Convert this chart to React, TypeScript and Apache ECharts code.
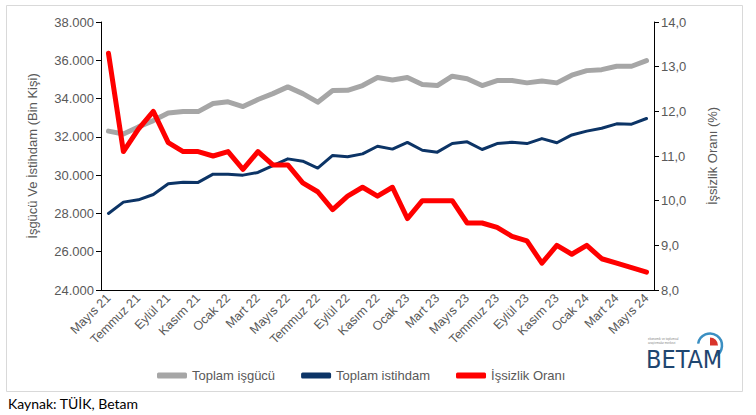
import React, { useEffect, useRef } from "react";
import * as echarts from "echarts";

const categories = [
  "Mayıs 21", "Haziran 21", "Temmuz 21", "Ağustos 21", "Eylül 21", "Ekim 21", "Kasım 21", "Aralık 21",
  "Ocak 22", "Şubat 22", "Mart 22", "Nisan 22", "Mayıs 22", "Haziran 22", "Temmuz 22", "Ağustos 22",
  "Eylül 22", "Ekim 22", "Kasım 22", "Aralık 22", "Ocak 23", "Şubat 23", "Mart 23", "Nisan 23",
  "Mayıs 23", "Haziran 23", "Temmuz 23", "Ağustos 23", "Eylül 23", "Ekim 23", "Kasım 23", "Aralık 23",
  "Ocak 24", "Şubat 24", "Mart 24", "Nisan 24", "Mayıs 24",
];

const isgucu = [
  32300, 32150, 32520, 32850, 33250, 33320, 33320, 33740, 33830, 33580, 33950, 34260, 34610, 34260,
  33810, 34420, 34430, 34680, 35100, 34970, 35100, 34730, 34680, 35170, 35040, 34680, 34940, 34940,
  34820, 34920, 34820, 35220, 35460, 35510, 35690, 35690, 35980,
];

const istihdam = [
  28000, 28590, 28710, 28990, 29550, 29630, 29620, 30050, 30050, 30000, 30140, 30500, 30850, 30730,
  30370, 31030, 30960, 31110, 31510, 31360, 31710, 31300, 31200, 31650, 31740, 31340, 31650, 31720,
  31650, 31910, 31690, 32100, 32300, 32450, 32680, 32660, 32960,
];

const issizlik = [
  13.3, 11.1, 11.6, 12.0, 11.3, 11.1, 11.1, 11.0, 11.1, 10.7, 11.1, 10.8, 10.8, 10.4, 10.2, 9.8,
  10.1, 10.3, 10.1, 10.3, 9.6, 10.0, 10.0, 10.0, 9.5, 9.5, 9.4, 9.2, 9.1, 8.6, 9.0, 8.8, 9.0, 8.7,
  8.6, 8.5, 8.4,
];

const seriesNames = ["Toplam işgücü", "Toplam istihdam", "İşsizlik Oranı"];
const leftAxisName = "İşgücü Ve İstihdam (Bin Kişi)";
const rightAxisName = "İşsizlik Oranı (%)";
const sourceText = "Kaynak: TÜİK, Betam";

const FONT = "'Liberation Sans', Arial, sans-serif";
const LABEL = "#595959";

function fmtThousands(v: number) {
  const k = Math.floor(v / 1000);
  const r = Math.round(v % 1000);
  return k + "." + String(r).padStart(3, "0");
}

export default function App() {
  const ref = useRef<HTMLDivElement>(null);
  useEffect(() => {
    if (!ref.current) return;
    const chart = echarts.init(ref.current, null, { renderer: "svg" });
    chart.setOption({
      animation: false,
      backgroundColor: "#ffffff",
      textStyle: { fontFamily: FONT },
      grid: { left: 101, right: 102, top: 22, bottom: 125, containLabel: false },
      legend: {
        left: 152,
        top: 364,
        itemGap: 26,
        itemWidth: 30,
        itemHeight: 6,
        icon: "roundRect",
        textStyle: { color: LABEL, fontSize: 13, fontFamily: FONT },
        data: seriesNames,
      },
      xAxis: {
        type: "category",
        data: categories,
        boundaryGap: true,
        axisLine: { lineStyle: { color: "#000", width: 1 } },
        axisTick: { interval: 1, length: 5, lineStyle: { color: "#000" } },
        axisLabel: {
          interval: 1,
          rotate: 45,
          color: LABEL,
          fontSize: 12.5,
          fontFamily: FONT,
          margin: 6,
        },
      },
      yAxis: [
        {
          type: "value",
          min: 24000,
          max: 38000,
          interval: 2000,
          position: "left",
          name: leftAxisName,
          nameLocation: "middle",
          nameGap: 62,
          nameTextStyle: { color: LABEL, fontSize: 13, fontFamily: FONT },
          axisLine: { show: true, lineStyle: { color: "#000" } },
          axisTick: { show: true, length: 5, lineStyle: { color: "#000" } },
          splitLine: { show: false },
          axisLabel: { color: LABEL, fontSize: 13, fontFamily: FONT, margin: 7, formatter: fmtThousands },
        },
        {
          type: "value",
          min: 8,
          max: 14,
          interval: 1,
          position: "right",
          name: rightAxisName,
          nameLocation: "middle",
          nameGap: 52,
          nameRotate: 90,
          nameTextStyle: { color: LABEL, fontSize: 13, fontFamily: FONT },
          axisLine: { show: true, lineStyle: { color: "#000" } },
          axisTick: { show: true, length: 5, lineStyle: { color: "#000" } },
          splitLine: { show: false },
          axisLabel: {
            color: LABEL,
            fontSize: 13,
            fontFamily: FONT,
            margin: 7,
            formatter: (v: number) => v.toFixed(1).replace(".", ","),
          },
        },
      ],
      series: [
        {
          name: seriesNames[0],
          type: "line",
          data: isgucu,
          yAxisIndex: 0,
          showSymbol: false,
          symbol: "none",
          lineStyle: { color: "#a6a6a6", width: 5, cap: "round", join: "round" },
          itemStyle: { color: "#a6a6a6" },
        },
        {
          name: seriesNames[1],
          type: "line",
          data: istihdam,
          yAxisIndex: 0,
          showSymbol: false,
          symbol: "none",
          lineStyle: { color: "#0c3466", width: 3, cap: "round", join: "round" },
          itemStyle: { color: "#0c3466" },
        },
        {
          name: seriesNames[2],
          type: "line",
          data: issizlik,
          yAxisIndex: 1,
          showSymbol: false,
          symbol: "none",
          lineStyle: { color: "#ff0000", width: 5, cap: "round", join: "round" },
          itemStyle: { color: "#ff0000" },
        },
      ],
      graphic: [
        {
          type: "rect",
          shape: { x: 6.5, y: 5.5, width: 736, height: 386 },
          style: { fill: "none", stroke: "#d9d9d9", lineWidth: 1 },
          silent: true,
          z: -1,
        },
        {
          type: "text",
          left: 8,
          top: 396,
          style: { text: sourceText, fill: "#000", fontSize: 14, fontFamily: "Lato, 'Open Sans', sans-serif" },
        },
        {
          type: "group",
          left: 646,
          top: 331,
          children: [
            {
              type: "arc",
              shape: { cx: 64, cy: 14, r: 12, startAngle: Math.PI * 1.05, endAngle: Math.PI * 2.35 },
              style: { stroke: "#3b8fc2", lineWidth: 2.5, fill: "none" },
            },
            {
              type: "sector",
              shape: { cx: 64, cy: 14, r: 8, r0: 0, startAngle: Math.PI * 1.5, endAngle: Math.PI * 2 },
              style: { fill: "#d9342b" },
            },
            {
              type: "text",
              x: 2,
              y: 6,
              style: { text: "ekonomik ve toplumsal", fill: "#888", fontSize: 3, fontFamily: FONT },
            },
            {
              type: "text",
              x: 2,
              y: 10,
              style: { text: "araştırmalar merkezi", fill: "#888", fontSize: 3, fontFamily: FONT },
            },
            {
              type: "text",
              x: 0,
              y: 15,
              style: {
                text: "BETAM",
                fill: "#1f4670",
                fontSize: 25,
                fontFamily: "'Liberation Sans Narrow', 'DejaVu Sans Condensed', sans-serif",
              },
            },
          ],
        },
      ],
    });
    return () => chart.dispose();
  }, []);
  return (
    <div
      ref={ref}
      style={{ position: "fixed", left: 0, top: 0, width: 756, height: 415 }}
    />
  );
}
